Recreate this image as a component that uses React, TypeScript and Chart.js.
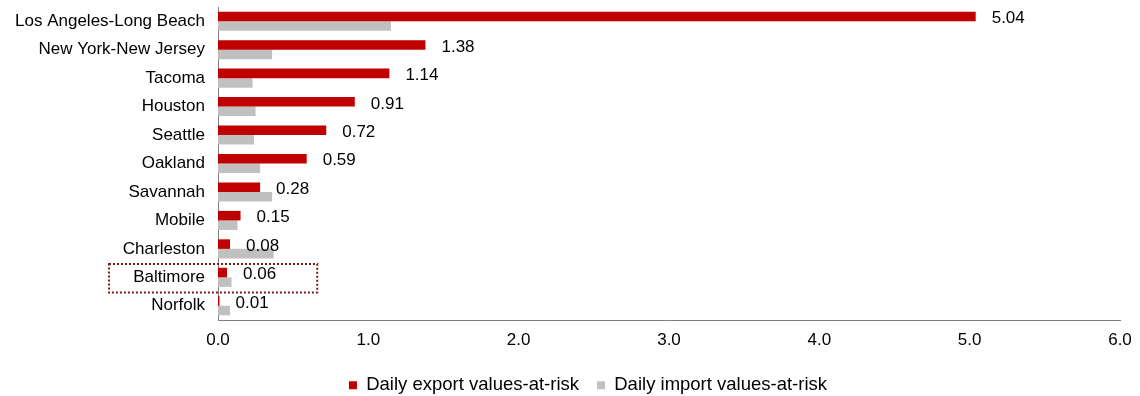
import React, { useEffect, useRef } from "react";
import { Chart, registerables } from "chart.js";

Chart.register(...registerables);

const categories = [
  "Los Angeles-Long Beach",
  "New York-New Jersey",
  "Tacoma",
  "Houston",
  "Seattle",
  "Oakland",
  "Savannah",
  "Mobile",
  "Charleston",
  "Baltimore",
  "Norfolk",
];
const exportValues = [5.04, 1.38, 1.14, 0.91, 0.72, 0.59, 0.28, 0.15, 0.08, 0.06, 0.01];
const importValues = [1.15, 0.36, 0.23, 0.25, 0.24, 0.28, 0.36, 0.13, 0.37, 0.09, 0.08];
const xTicks = [0, 1, 2, 3, 4, 5, 6];
const highlighted = "Baltimore";

const FONT = "'Liberation Sans', Arial, sans-serif";

const labelPlugin = {
  id: "valueLabels",
  afterDatasetsDraw(chart: any) {
    const ctx = chart.ctx;
    const meta = chart.getDatasetMeta(0);
    ctx.save();
    ctx.font = `17px ${FONT}`;
    ctx.fillStyle = "#000";
    ctx.textAlign = "left";
    ctx.textBaseline = "middle";
    meta.data.forEach((bar: any, i: number) => {
      ctx.fillText(exportValues[i].toFixed(2), bar.x + 16, bar.y + 2);
    });
    ctx.restore();
  },
};

const boxPlugin = {
  id: "highlightBox",
  afterDraw(chart: any) {
    const idx = categories.indexOf(highlighted);
    if (idx < 0) return;
    const y = chart.scales.y;
    const x = chart.scales.x;
    const cy = y.getPixelForValue(idx);
    const half = (chart.chartArea.bottom - chart.chartArea.top) / categories.length / 2;
    const ctx = chart.ctx;
    ctx.save();
    ctx.strokeStyle = "#7a1c1c";
    ctx.lineWidth = 2;
    ctx.setLineDash([2, 2]);
    const left = chart.chartArea.left - 109;
    const right = x.getPixelForValue(0.66);
    ctx.strokeRect(left, cy - half + 1, right - left, half * 2);
    ctx.restore();
  },
};

const legendPlugin = {
  id: "legendTweak",
  beforeInit(chart: any) {
    const legend = chart.legend;
    if (!legend) return;
    const orig = legend.fit;
    legend.fit = function () {
      orig.call(this);
      this.height = 38;
    };
  },
  afterLayout(chart: any) {
    const legend = chart.legend;
    if (!legend) return;
    legend.left += 28;
    legend.right += 28;
  },
};

export default function App() {
  const ref = useRef<HTMLCanvasElement>(null);
  useEffect(() => {
    document.body.style.margin = "0";
    const chart = new Chart(ref.current!, {
      type: "bar",
      data: {
        labels: categories,
        datasets: [
          {
            label: "Daily export values-at-risk",
            data: exportValues,
            backgroundColor: "#c00000",
            categoryPercentage: 0.67,
            barPercentage: 1,
          },
          {
            label: "Daily import values-at-risk",
            data: importValues,
            backgroundColor: "#c0c0c0",
            categoryPercentage: 0.67,
            barPercentage: 1,
          },
        ],
      },
      options: {
        indexAxis: "y",
        animation: false,
        responsive: false,
        layout: { padding: { top: 7, right: 20, left: 0, bottom: 0 } },
        scales: {
          x: {
            min: 0,
            max: 6,
            afterBuildTicks: (s: any) => {
              s.ticks = xTicks.map((v) => ({ value: v }));
            },
            grid: { display: false, drawTicks: false },
            border: { display: true, color: "#7f7f7f", width: 1 },
            ticks: {
              color: "#000",
              font: { family: FONT, size: 17 },
              padding: 10,
              maxRotation: 0,
              callback: (v: any) => Number(v).toFixed(1),
            },
            afterFit: (s: any) => {
              s.height = 38;
              s.paddingLeft = 0;
              s.paddingRight = 0;
            },
          },
          y: {
            grid: { display: false, drawTicks: false },
            border: { display: true, color: "#7f7f7f", width: 1 },
            ticks: { color: "#000", font: { family: FONT, size: 17 }, padding: 13 },
            afterFit: (s: any) => {
              s.width = 218;
              s.paddingTop = 0;
              s.paddingBottom = 0;
            },
          },
        },
        plugins: {
          legend: {
            position: "bottom",
            labels: {
              color: "#000",
              font: { family: FONT, size: 18.5 },
              boxWidth: 8,
              boxHeight: 8,
              padding: 18,
            },
          },
          tooltip: { enabled: false },
        },
      },
      plugins: [labelPlugin, boxPlugin, legendPlugin],
    });
    return () => chart.destroy();
  }, []);
  return (
    <div style={{ width: 1140, height: 396 }}>
      <canvas ref={ref} width={1140} height={396} style={{ display: "block" }} />
    </div>
  );
}
